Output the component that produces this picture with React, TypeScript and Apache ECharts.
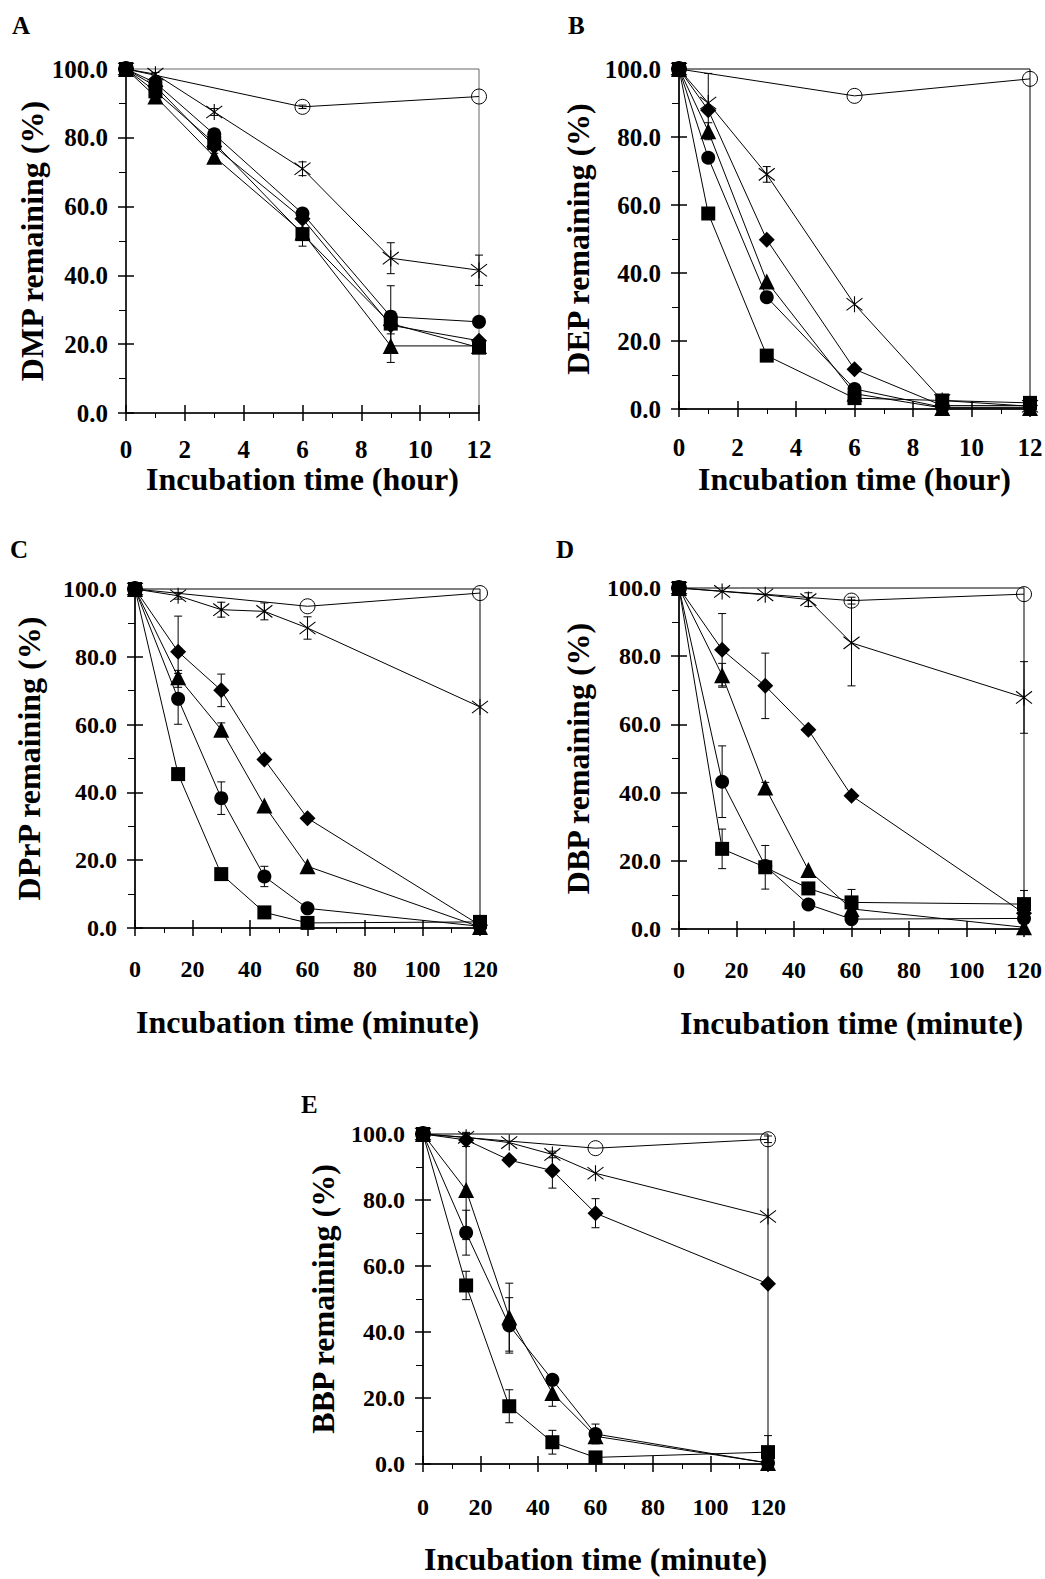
import React, { useEffect, useRef } from "react";
import * as echarts from "echarts";

// ---------- time axes ----------
const hours = [0, 1, 3, 6, 9, 12];
const hoursCtrl = [0, 6, 12];
const minutes = [0, 15, 30, 45, 60, 120];
const minutesCtrl = [0, 60, 120];
const yTicks = [0, 20, 40, 60, 80, 100];

// ---------- Panel A: DMP ----------
const dmpSquare = [100, 93.5, 78.5, 52, 26, 19];
const dmpCircle = [100, 96, 81, 58, 28, 26.5];
const dmpTriangle = [100, 92, 74.5, 52.5, 19.5, 19.5];
const dmpDiamond = [100, 95, 77.5, 56.5, 25.5, 21];
const dmpStar = [100, 98.5, 87.5, 71, 45, 41.5];
const dmpCtrl = [100, 89, 92];
const dmpSquareErr = [0, 1, 1, 3.5, 3, 1];
const dmpCircleErr = [0, 1, 1, 1.5, 9, 1];
const dmpTriangleErr = [0, 0, 1, 0, 4.8, 0];
const dmpDiamondErr = [0, 0, 0, 0, 0, 0];
const dmpStarErr = [0, 0.5, 1, 2, 4.5, 4.4];
const dmpCtrlErr = [0, 0.5, 0];

// ---------- Panel B: DEP ----------
const depSquare = [100, 57.5, 15.7, 3.2, 2.5, 1.8];
const depCircle = [100, 73.9, 32.9, 5.9, 0.5, 0.5];
const depTriangle = [100, 81.7, 37.5, 4.5, 0.3, 0.3];
const depDiamond = [100, 87.9, 49.8, 11.7, 1, 1];
const depStar = [100, 90, 69, 30.8, 2.5, 0.8];
const depCtrl = [100, 92.1, 97.1];
const depSquareErr = [0, 0, 0, 0, 0, 0];
const depCircleErr = [0, 0, 0, 0, 0, 0];
const depTriangleErr = [0, 2.5, 0, 0, 0, 0];
const depDiamondErr = [0, 0, 0, 0, 0, 0];
const depStarErr = [0, 8.7, 2.3, 0, 0, 0];
const depCtrlErr = [0, 0, 0];

// ---------- Panel C: DPrP ----------
const dprpSquare = [100, 45.4, 15.9, 4.6, 1.5, 1.8];
const dprpCircle = [100, 67.6, 38.3, 15.2, 5.8, 0.5];
const dprpTriangle = [100, 74.0, 58.5, 36.1, 18.2, 0.3];
const dprpDiamond = [100, 81.5, 70.1, 49.7, 32.4, 0.8];
const dprpStar = [100, 98.0, 93.9, 93.4, 88.5, 65.2];
const dprpCtrl = [100, 94.9, 98.8];
const dprpSquareErr = [0, 0, 0, 0, 0, 0];
const dprpCircleErr = [0, 7.5, 4.8, 3, 0, 0];
const dprpTriangleErr = [0, 2, 2, 0, 0, 0];
const dprpDiamondErr = [0, 10.5, 4.8, 0, 0, 0];
const dprpStarErr = [0, 1, 2.2, 2.5, 3.3, 0];
const dprpCtrlErr = [0, 0, 0];

// ---------- Panel D: DBP ----------
const dbpSquare = [100, 23.5, 18.1, 11.9, 7.8, 7.3];
const dbpCircle = [100, 43.2, 18.5, 7.2, 2.9, 3.1];
const dbpTriangle = [100, 74.4, 41.5, 17.3, 5.9, 0.5];
const dbpDiamond = [100, 81.9, 71.3, 58.4, 39.1, 4.6];
const dbpStar = [100, 99.0, 98.0, 96.6, 83.9, 67.9];
const dbpCtrl = [100, 96.3, 98.2];
const dbpSquareErr = [0, 5.8, 6.4, 0, 3.8, 4];
const dbpCircleErr = [0, 10.5, 0, 0, 0, 0];
const dbpTriangleErr = [0, 3.5, 1.5, 0, 0, 0];
const dbpDiamondErr = [0, 10.6, 9.6, 0, 0, 0];
const dbpStarErr = [0, 0, 0, 2, 12.6, 10.5];
const dbpCtrlErr = [0, 1, 0];

// ---------- Panel E: BBP ----------
const bbpSquare = [100, 54.1, 17.5, 6.6, 2.0, 3.6];
const bbpCircle = [100, 70.1, 42.0, 25.5, 9.1, 0.3];
const bbpTriangle = [100, 83.0, 44.5, 21.5, 8.4, 0.3];
const bbpDiamond = [100, 98.2, 92.1, 88.9, 76.0, 54.6];
const bbpStar = [100, 99.0, 97.4, 93.8, 88.1, 75.0];
const bbpCtrl = [100, 95.7, 98.4];
const bbpSquareErr = [0, 4.3, 5, 3.6, 0, 5];
const bbpCircleErr = [0, 6.8, 8.4, 0, 3, 0];
const bbpTriangleErr = [0, 15, 10.3, 4, 0, 0];
const bbpDiamondErr = [0, 2, 1, 5.3, 4.4, 0];
const bbpStarErr = [0, 1.5, 0, 1, 0, 0];
const bbpCtrlErr = [0, 0, 1];

const FONT = "'Liberation Serif', 'Times New Roman', Times, serif";
const STAR_PATH = "path://M0,0L10,10M10,0L0,10M5,-1.5L5,11.5";

type SeriesDef = { kind: string; x: number[]; y: number[]; err: number[] };
type PanelDef = {
  letter: string;
  yName: string;
  xName: string;
  xMax: number;
  xInterval: number;
  grid: { left: number; top: number; width: number; height: number };
  letterPos: [number, number];
  yNameGap: number;
  xNameGap: number;
  xLabelMargin: number;
  tickFont: number;
  border: string;
  series: SeriesDef[];
};

const mk = (x: number[], xc: number[], sq: number[], ci: number[], tr: number[], di: number[], st: number[], ct: number[],
  sqE: number[], ciE: number[], trE: number[], diE: number[], stE: number[], ctE: number[]): SeriesDef[] => [
  { kind: "control", x: xc, y: ct, err: ctE },
  { kind: "star", x, y: st, err: stE },
  { kind: "diamond", x, y: di, err: diE },
  { kind: "triangle", x, y: tr, err: trE },
  { kind: "circle", x, y: ci, err: ciE },
  { kind: "square", x, y: sq, err: sqE },
];

const panels: PanelDef[] = [
  {
    letter: "A", yName: "DMP remaining (%)", xName: "Incubation time (hour)", xMax: 12, xInterval: 2,
    grid: { left: 126, top: 69, width: 353, height: 344 }, letterPos: [12, 13],
    yNameGap: 77, xNameGap: 50, xLabelMargin: 24, tickFont: 25, border: "#666",
    series: mk(hours, hoursCtrl, dmpSquare, dmpCircle, dmpTriangle, dmpDiamond, dmpStar, dmpCtrl,
      dmpSquareErr, dmpCircleErr, dmpTriangleErr, dmpDiamondErr, dmpStarErr, dmpCtrlErr),
  },
  {
    letter: "B", yName: "DEP remaining (%)", xName: "Incubation time (hour)", xMax: 12, xInterval: 2,
    grid: { left: 679, top: 69, width: 351, height: 340 }, letterPos: [568, 13],
    yNameGap: 85, xNameGap: 54, xLabelMargin: 26, tickFont: 25, border: "#000",
    series: mk(hours, hoursCtrl, depSquare, depCircle, depTriangle, depDiamond, depStar, depCtrl,
      depSquareErr, depCircleErr, depTriangleErr, depDiamondErr, depStarErr, depCtrlErr),
  },
  {
    letter: "C", yName: "DPrP remaining (%)", xName: "Incubation time (minute)", xMax: 120, xInterval: 20,
    grid: { left: 135, top: 589, width: 345, height: 339 }, letterPos: [10, 537],
    yNameGap: 90, xNameGap: 78, xLabelMargin: 29, tickFont: 24, border: "#000",
    series: mk(minutes, minutesCtrl, dprpSquare, dprpCircle, dprpTriangle, dprpDiamond, dprpStar, dprpCtrl,
      dprpSquareErr, dprpCircleErr, dprpTriangleErr, dprpDiamondErr, dprpStarErr, dprpCtrlErr),
  },
  {
    letter: "D", yName: "DBP remaining (%)", xName: "Incubation time (minute)", xMax: 120, xInterval: 20,
    grid: { left: 679, top: 588, width: 345, height: 341 }, letterPos: [556, 537],
    yNameGap: 85, xNameGap: 78, xLabelMargin: 29, tickFont: 24, border: "#000",
    series: mk(minutes, minutesCtrl, dbpSquare, dbpCircle, dbpTriangle, dbpDiamond, dbpStar, dbpCtrl,
      dbpSquareErr, dbpCircleErr, dbpTriangleErr, dbpDiamondErr, dbpStarErr, dbpCtrlErr),
  },
  {
    letter: "E", yName: "BBP remaining (%)", xName: "Incubation time (minute)", xMax: 120, xInterval: 20,
    grid: { left: 423, top: 1134, width: 345, height: 330 }, letterPos: [301, 1092],
    yNameGap: 84, xNameGap: 79, xLabelMargin: 31, tickFont: 24, border: "#000",
    series: mk(minutes, minutesCtrl, bbpSquare, bbpCircle, bbpTriangle, bbpDiamond, bbpStar, bbpCtrl,
      bbpSquareErr, bbpCircleErr, bbpTriangleErr, bbpDiamondErr, bbpStarErr, bbpCtrlErr),
  },
];

function symbolFor(kind: string) {
  switch (kind) {
    case "square": return { symbol: "rect", symbolSize: 14, itemStyle: { color: "#000" } };
    case "circle": return { symbol: "circle", symbolSize: 14, itemStyle: { color: "#000" } };
    case "triangle": return { symbol: "triangle", symbolSize: 16, itemStyle: { color: "#000" } };
    case "diamond": return { symbol: "diamond", symbolSize: 16, itemStyle: { color: "#000" } };
    case "star": return { symbol: STAR_PATH, symbolSize: 16, itemStyle: { color: "transparent", borderColor: "#000", borderWidth: 1.1 } };
    default: return { symbol: "circle", symbolSize: 15, itemStyle: { color: "transparent", borderColor: "#000", borderWidth: 1 } };
  }
}

function buildOption() {
  const grid: any[] = [];
  const xAxis: any[] = [];
  const yAxis: any[] = [];
  const series: any[] = [];
  const graphic: any[] = [];

  const nameStyle = { fontFamily: FONT, fontWeight: "bold", fontSize: 32, color: "#000" };

  panels.forEach((p, pi) => {
    const gMain = pi * 2;
    const gOver = pi * 2 + 1;
    const labelStyle = { fontFamily: FONT, fontWeight: "bold", fontSize: p.tickFont, color: "#000" };
    grid.push({
      ...p.grid, show: true, borderColor: p.border, borderWidth: 1, backgroundColor: "transparent",
      containLabel: false, outerBoundsMode: "none",
    });
    grid.push({ ...p.grid, show: false, containLabel: false, outerBoundsMode: "none" });

    // main axes: labels, axis line, outward ticks, minor ticks
    xAxis.push({
      type: "value", gridIndex: gMain, min: 0, max: p.xMax, interval: p.xInterval,
      axisLine: { show: true, onZero: false, lineStyle: { color: "#000", width: 1.5 } },
      axisTick: { show: true, inside: false, length: 8, lineStyle: { color: "#000", width: 1.5 } },
      minorTick: { show: true, splitNumber: 2, length: 5, lineStyle: { color: "#000", width: 1 } },
      splitLine: { show: false },
      axisLabel: { ...labelStyle, margin: p.xLabelMargin, formatter: (v: number) => String(v) },
      name: p.xName, nameLocation: "middle", nameGap: p.xNameGap, nameTextStyle: nameStyle,
    });
    yAxis.push({
      type: "value", gridIndex: gMain, min: 0, max: 100, interval: 20,
      axisLine: { show: true, onZero: false, lineStyle: { color: "#000", width: 1.5 } },
      axisTick: { show: true, inside: false, length: 8, lineStyle: { color: "#000", width: 1.5 } },
      minorTick: { show: true, splitNumber: 2, length: 7, lineStyle: { color: "#000", width: 1 } },
      splitLine: { show: false },
      axisLabel: { ...labelStyle, margin: 18, formatter: (v: number) => (yTicks.includes(v) ? v.toFixed(1) : "") },
      name: p.yName, nameLocation: "middle", nameGap: p.yNameGap, nameTextStyle: nameStyle,
    });
    // overlay axes: inward major ticks only (so major ticks cross the axis)
    xAxis.push({
      type: "value", gridIndex: gOver, min: 0, max: p.xMax, interval: p.xInterval,
      axisLine: { show: false, onZero: false },
      axisTick: { show: true, inside: true, length: 8, lineStyle: { color: "#000", width: 1.5 } },
      splitLine: { show: false }, axisLabel: { show: false },
    });
    yAxis.push({
      type: "value", gridIndex: gOver, min: 0, max: 100, interval: 20,
      axisLine: { show: false, onZero: false },
      axisTick: { show: true, inside: true, length: 8, lineStyle: { color: "#000", width: 1.5 } },
      splitLine: { show: false }, axisLabel: { show: false },
    });

    p.series.forEach((s) => {
      const sym = symbolFor(s.kind);
      series.push({
        type: "line", xAxisIndex: gMain, yAxisIndex: gMain,
        data: s.x.map((x, i) => [x, s.y[i]]),
        lineStyle: { color: "#000", width: 1 },
        ...sym, showSymbol: true, z: 3, clip: false, silent: true,
      });
      const errData = s.x
        .map((x, i) => [x, s.y[i] - s.err[i], s.y[i] + s.err[i], s.err[i]])
        .filter((d) => d[3] > 0);
      if (errData.length) {
        series.push({
          type: "custom", xAxisIndex: gMain, yAxisIndex: gMain, silent: true, clip: false, z: 2,
          data: errData,
          encode: { x: 0, y: [1, 2] },
          renderItem: (params: any, api: any) => {
            const x = api.value(0);
            const top = api.coord([x, api.value(2)]);
            const bot = api.coord([x, api.value(1)]);
            const w = 4;
            const st = { stroke: "#000", lineWidth: 1 };
            return {
              type: "group",
              children: [
                { type: "line", shape: { x1: top[0], y1: top[1], x2: bot[0], y2: bot[1] }, style: st },
                { type: "line", shape: { x1: top[0] - w, y1: top[1], x2: top[0] + w, y2: top[1] }, style: st },
                { type: "line", shape: { x1: bot[0] - w, y1: bot[1], x2: bot[0] + w, y2: bot[1] }, style: st },
              ],
            };
          },
        });
      }
    });

    graphic.push({
      type: "text", left: p.letterPos[0], top: p.letterPos[1],
      style: { text: p.letter, fontFamily: FONT, fontWeight: "bold", fontSize: 25, fill: "#000" },
    });
  });

  return { animation: false, backgroundColor: "#fff", grid, xAxis, yAxis, series, graphic };
}

export default function App() {
  const ref = useRef<HTMLDivElement>(null);
  useEffect(() => {
    if (!ref.current) return;
    const chart = echarts.init(ref.current, undefined, { renderer: "svg" });
    chart.setOption(buildOption() as any);
    return () => chart.dispose();
  }, []);
  return (
    <div
      ref={ref}
      style={{ position: "absolute", left: 0, top: 0, width: 1045, height: 1579, background: "#fff" }}
    />
  );
}
